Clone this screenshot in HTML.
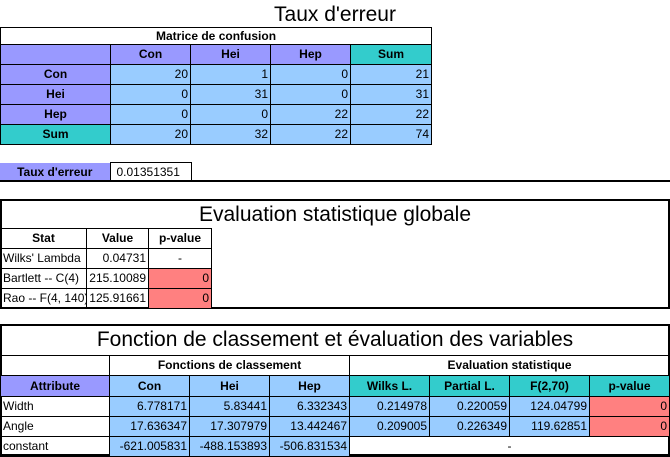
<!DOCTYPE html>
<html><head><meta charset="utf-8"><style>
body{margin:0;width:670px;height:456px;background:#fff;position:relative;font-family:"Liberation Sans",sans-serif;overflow:hidden}
.a{position:absolute;box-sizing:border-box}
.t{position:absolute;left:0;width:670px;text-align:center;font-size:21px;color:#000}
table{position:absolute;border-collapse:collapse;table-layout:fixed;font-size:12px}
td{border:1px solid #000;padding:0 2px;height:19px;line-height:19px;overflow:hidden;white-space:nowrap}
.h{font-weight:bold;text-align:center}
.p{background:#9999ff}.g{background:#33cccc}.b{background:#99ccff}.r{background:#ff8080}
.n{text-align:right}
.s{font-family:"Liberation Sans",sans-serif;font-size:12px}
</style></head><body>
<div class="t" style="top:3px;left:170px;width:330px">Taux d'erreur</div>
<table style="left:0;top:27px;width:431px">
<col style="width:110px"><col style="width:80px"><col style="width:80px"><col style="width:80px"><col style="width:81px">
<tr><td class="h" colspan="5" style="height:16px;line-height:16px">Matrice de confusion</td></tr>
<tr><td class="p"></td><td class="h p">Con</td><td class="h p">Hei</td><td class="h p">Hep</td><td class="h g">Sum</td></tr>
<tr><td class="h p">Con</td><td class="b n s">20</td><td class="b n s">1</td><td class="b n s">0</td><td class="b n s">21</td></tr>
<tr><td class="h p">Hei</td><td class="b n s">0</td><td class="b n s">31</td><td class="b n s">0</td><td class="b n s">31</td></tr>
<tr><td class="h p">Hep</td><td class="b n s">0</td><td class="b n s">0</td><td class="b n s">22</td><td class="b n s">22</td></tr>
<tr><td class="h g">Sum</td><td class="b n s">20</td><td class="b n s">32</td><td class="b n s">22</td><td class="b n s">74</td></tr>
</table>
<table style="left:0;top:162px;width:191px">
<col style="width:110px"><col style="width:81px">
<tr><td class="h p" style="border:none">Taux d'erreur</td><td class="s" style="border-bottom:none;padding-left:6px">0.01351351</td></tr>
</table>
<div class="a" style="left:0;top:180px;width:670px;height:2px;background:#000"></div>

<div class="a" style="left:0;top:199px;width:670px;height:110px;border:2px solid #000"></div>
<div class="t" style="top:203px">Evaluation statistique globale</div>
<table style="left:0;top:228px;width:211px">
<col style="width:86px"><col style="width:62px"><col style="width:63px">
<tr><td class="h">Stat</td><td class="h">Value</td><td class="h">p-value</td></tr>
<tr><td class="s">Wilks' Lambda</td><td class="n s">0.04731</td><td class="s" style="text-align:center">-</td></tr>
<tr><td class="s">Bartlett -- C(4)</td><td class="n s">215.10089</td><td class="r n s">0</td></tr>
<tr><td class="s">Rao -- F(4, 140)</td><td class="n s">125.91661</td><td class="r n s">0</td></tr>
</table>

<div class="a" style="left:0;top:324px;width:670px;height:132px;border:2px solid #000"></div>
<div class="t" style="top:328px">Fonction de classement et évaluation des variables</div>
<table style="left:0;top:355px;width:669px">
<col style="width:109px"><col style="width:80px"><col style="width:80px"><col style="width:80px"><col style="width:80px"><col style="width:80px"><col style="width:80px"><col style="width:80px">
<tr><td style="border-left:none"></td><td class="h" colspan="3">Fonctions de classement</td><td class="h" colspan="4">Evaluation statistique</td></tr>
<tr style="height:21px"><td class="h p">Attribute</td><td class="h b">Con</td><td class="h b">Hei</td><td class="h b">Hep</td><td class="h g">Wilks L.</td><td class="h g">Partial L.</td><td class="h g">F(2,70)</td><td class="h g">p-value</td></tr>
<tr><td class="s">Width</td><td class="b n s">6.778171</td><td class="b n s">5.83441</td><td class="b n s">6.332343</td><td class="b n s">0.214978</td><td class="b n s">0.220059</td><td class="b n s">124.04799</td><td class="r n s">0</td></tr>
<tr><td class="s">Angle</td><td class="b n s">17.636347</td><td class="b n s">17.307979</td><td class="b n s">13.442467</td><td class="b n s">0.209005</td><td class="b n s">0.226349</td><td class="b n s">119.62851</td><td class="r n s">0</td></tr>
<tr><td class="s">constant</td><td class="b n s">-621.005831</td><td class="b n s">-488.153893</td><td class="b n s">-506.831534</td><td class="s" colspan="4" style="text-align:center">-</td></tr>
</table>
</body></html>
